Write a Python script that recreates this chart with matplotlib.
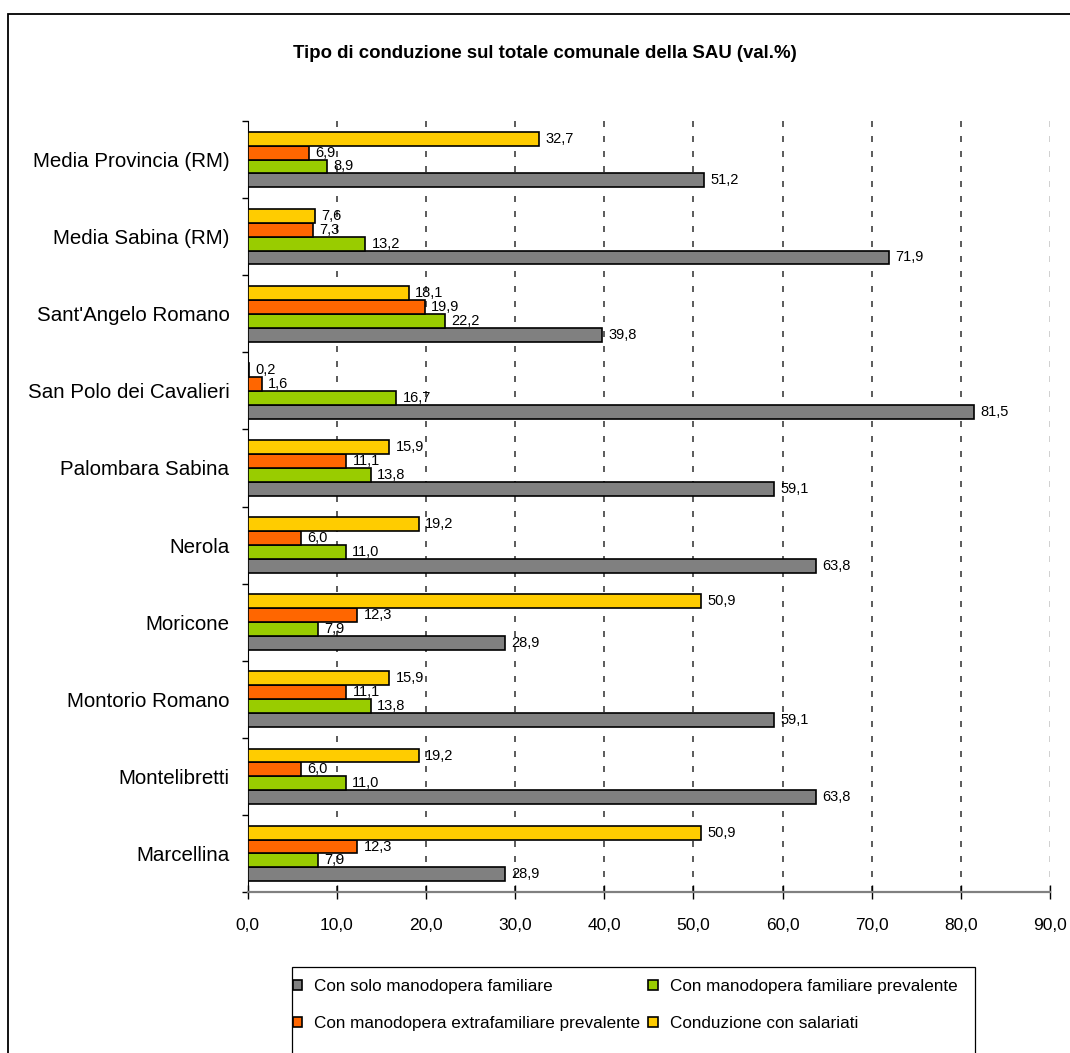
import numpy as np
import matplotlib
matplotlib.use('Agg')
import matplotlib.pyplot as plt
from matplotlib.patches import Patch, Rectangle

plt.rcParams['font.family'] = ['Liberation Sans', 'DejaVu Sans']

# dati (dal basso verso l'alto)
comuni = ['Marcellina', 'Montelibretti', 'Montorio Romano', 'Moricone', 'Nerola',
          'Palombara Sabina', 'San Polo dei Cavalieri', "Sant'Angelo Romano",
          'Media Sabina (RM)', 'Media Provincia (RM)']
solo_familiare = [28.9, 63.8, 59.1, 28.9, 63.8, 59.1, 81.5, 39.8, 71.9, 51.2]
familiare_prev = [7.9, 11.0, 13.8, 7.9, 11.0, 13.8, 16.7, 22.2, 13.2, 8.9]
extrafam_prev = [12.3, 6.0, 11.1, 12.3, 6.0, 11.1, 1.6, 19.9, 7.3, 6.9]
salariati = [50.9, 19.2, 15.9, 50.9, 19.2, 15.9, 0.2, 18.1, 7.6, 32.7]

serie = [
    ('Con solo manodopera familiare', solo_familiare, '#808080'),
    ('Con manodopera familiare prevalente', familiare_prev, '#99CC00'),
    ('Con manodopera extrafamiliare prevalente', extrafam_prev, '#FF6600'),
    ('Conduzione con salariati', salariati, '#FFCC00'),
]

W, H = 1070, 1053
fig = plt.figure(figsize=(W / 100, H / 100), dpi=100)
ax = fig.add_axes([247.5 / W, 1 - 892 / H, 802.5 / W, 771 / H])

y = np.arange(len(comuni))
h = 0.18
offsets = [1.5 * h, 0.5 * h, -0.5 * h, -1.5 * h]  # grigio in basso, giallo in alto

handles = {}
for (nome, vals, col), off in zip(serie, offsets):
    bars = ax.barh(y - off, vals, height=h, color=col, edgecolor='black',
                   linewidth=1.2, zorder=3)
    handles[nome] = Patch(facecolor=col, edgecolor='black', linewidth=1.2)
    for b, v in zip(bars, vals):
        ax.annotate(f'{v:.1f}'.replace('.', ','),
                    (b.get_width(), b.get_y() + b.get_height() / 2),
                    xytext=(4.5, 0), textcoords='offset points',
                    va='center', ha='left', fontsize=10.5, zorder=4)

ax.set_xlim(0, 90)
ax.set_ylim(-0.5, len(comuni) - 0.5)

# griglia tratteggiata
for gx in range(10, 90, 10):
    ax.axvline(gx, color='#404040', lw=1.2, dashes=(3.6, 5.4), zorder=1)
ax.axvline(90, color='#c8c8c8', lw=1.2, dashes=(3.6, 5.4), zorder=1)

ax.set_xticks(np.arange(0, 91, 10))
ax.set_xticklabels([f'{v:.1f}'.replace('.', ',') for v in np.arange(0, 91, 10)],
                   fontsize=12.5)
ax.tick_params(axis='x', direction='inout', length=10, width=1, pad=14)

# tacche ai confini delle categorie, etichette al centro
ax.set_yticks(np.arange(-0.5, len(comuni), 1))
ax.set_yticklabels([])
ax.set_yticks(y, minor=True)
ax.set_yticklabels(comuni, minor=True, fontsize=14.8)
ax.tick_params(axis='y', which='major', direction='out', length=4.5, width=1)
ax.tick_params(axis='y', which='minor', length=0, pad=13)

ax.spines['top'].set_visible(False)
ax.spines['right'].set_visible(False)
ax.spines['left'].set_color('black')
ax.spines['bottom'].set_color('#808080')
ax.spines['bottom'].set_linewidth(1.6)

fig.text(545 / W, 1 - 53 / H, 'Tipo di conduzione sul totale comunale della SAU (val.%)',
         ha='center', va='center', fontsize=13.4, fontweight='bold')

# legenda (ordine per colonne)
ordine = ['Con solo manodopera familiare', 'Con manodopera extrafamiliare prevalente',
          'Con manodopera familiare prevalente', 'Conduzione con salariati']
fig.legend([handles[n] for n in ordine], ordine, ncol=2, frameon=False,
           loc='upper left', bbox_to_anchor=(293 / W, 1 - 979 / H),
           borderpad=0, borderaxespad=0, fontsize=12.3,
           handlelength=0.55, handleheight=0.55, handletextpad=0.7,
           columnspacing=0.45, labelspacing=1.3)
fig.patches.append(Rectangle((291.5 / W, -0.05), (975 - 291.5) / W, 0.05 + (1053 - 967) / H,
                             transform=fig.transFigure, fill=False,
                             edgecolor='black', linewidth=0.9))

# cornice esterna
fig.patches.append(Rectangle((7.5 / W, -0.05), 1.1, 1.05 - 13.5 / H,
                             transform=fig.transFigure, fill=False,
                             edgecolor='black', linewidth=1.3))

fig.savefig('out.png', dpi=100)
